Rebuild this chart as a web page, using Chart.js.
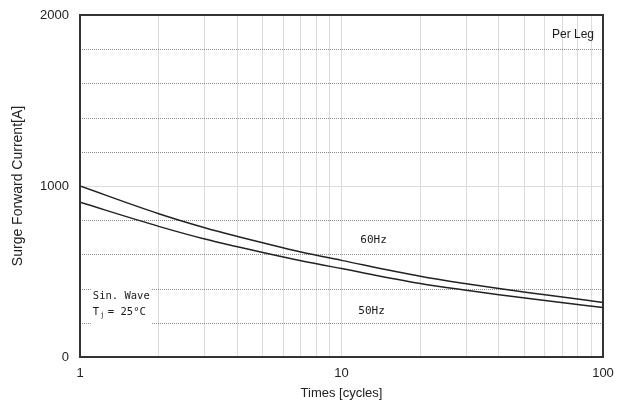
<!DOCTYPE html>
<html>
<head>
<meta charset="utf-8">
<script src="https://cdn.jsdelivr.net/npm/chart.js@4"></script>
<style>
  body { margin: 0; background: #fff; }
</style>
</head>
<body>
<canvas id="chart" width="629" height="404"></canvas>
<script>
// Data
let cycles = [1, 2, 3, 4, 5, 7, 10, 20, 30, 40, 60, 100];
let surge60 = [1000, 838, 756, 705, 668, 614, 565, 472, 428, 400, 364, 319];
let surge50 = [905, 764, 690, 645, 611, 563, 517, 430, 390, 364, 330, 290];

// Axis ticks
let xTicks = [1, 2, 3, 4, 5, 6, 7, 8, 9, 10, 20, 30, 40, 50, 60, 70, 80, 90, 100];
let xLabels = [1, 10, 100];
let yLabels = [0, 1000, 2000];
let yDotted = [200, 400, 600, 800, 1200, 1400, 1600, 1800];

let font = "'Liberation Sans', Arial, sans-serif";
let mono = "'DejaVu Sans Mono', monospace";

function toPoints(values) {
    return cycles.map((c, i) => ({ x: c, y: values[i] }));
}

// Dotted grid, frame and notes
let extras = {
    id: "extras",
    beforeDatasetsDraw(chart) {
        let ctx = chart.ctx;
        let area = chart.chartArea;
        let y = chart.scales.y;
        ctx.save();
        ctx.strokeStyle = "#8a8a8a";
        ctx.lineWidth = 1;
        ctx.setLineDash([1, 1]);
        yDotted.forEach(v => {
            let py = Math.round(y.getPixelForValue(v)) + 0.5;
            ctx.beginPath();
            ctx.moveTo(area.left, py);
            ctx.lineTo(area.right, py);
            ctx.stroke();
        });
        ctx.restore();
    },
    afterDatasetsDraw(chart) {
        let ctx = chart.ctx;
        let area = chart.chartArea;
        let x = chart.scales.x;
        let y = chart.scales.y;
        ctx.save();

        // white patch behind the note
        ctx.fillStyle = "#fff";
        let bx1 = x.getPixelForValue(1.1), bx2 = x.getPixelForValue(1.88);
        let by1 = y.getPixelForValue(433), by2 = y.getPixelForValue(170);
        ctx.fillRect(bx1, by1, bx2 - bx1, by2 - by1);

        // frame
        ctx.strokeStyle = "#333";
        ctx.lineWidth = 2;
        ctx.strokeRect(area.left, area.top, area.right - area.left, area.bottom - area.top);

        ctx.fillStyle = "#1a1a1a";
        ctx.textBaseline = "middle";

        ctx.font = "12px " + font;
        ctx.textAlign = "right";
        ctx.fillText("Per Leg", x.getPixelForValue(92.4), y.getPixelForValue(1883));

        ctx.textAlign = "left";
        ctx.font = "11px " + mono;
        ctx.fillText("60Hz", x.getPixelForValue(11.8), y.getPixelForValue(682));
        ctx.fillText("50Hz", x.getPixelForValue(11.6), y.getPixelForValue(270));

        ctx.font = "10.5px " + mono;
        let nx = x.getPixelForValue(1.12);
        ctx.fillText("Sin. Wave", nx, y.getPixelForValue(358));
        let ty = y.getPixelForValue(262);
        ctx.fillText("T", nx, ty);
        ctx.font = "7px " + mono;
        ctx.fillText("j", nx + 7.5, ty + 3);
        ctx.font = "10.5px " + mono;
        ctx.fillText("= 25\u00b0C", nx + 15, ty);

        ctx.restore();
    }
};

let chart = new Chart(document.getElementById("chart"), {
    type: "line",
    data: {
        datasets: [
            { label: "60Hz", data: toPoints(surge60) },
            { label: "50Hz", data: toPoints(surge50) }
        ]
    },
    options: {
        responsive: false,
        animation: false,
        devicePixelRatio: 1,
        layout: { padding: { top: 15, right: 26, left: 0, bottom: 0 } },
        elements: {
            line: { borderColor: "#222", borderWidth: 1.5, tension: 0.4, cubicInterpolationMode: "monotone", fill: false },
            point: { radius: 0 }
        },
        plugins: {
            legend: { display: false },
            tooltip: { enabled: false }
        },
        scales: {
            x: {
                type: "logarithmic",
                min: 1,
                max: 100,
                afterBuildTicks: s => { s.ticks = xTicks.map(v => ({ value: v })); },
                afterFit: s => { s.height = 47; },
                ticks: {
                    autoSkip: false,
                    maxRotation: 0,
                    padding: 3,
                    color: "#222",
                    font: { family: font, size: 13 },
                    callback: v => xLabels.includes(v) ? String(v) : ""
                },
                grid: { color: "#dcdcdc", lineWidth: 1, drawTicks: true, tickLength: 6, tickColor: "rgba(0,0,0,0)" },
                border: { display: false },
                title: {
                    display: true,
                    text: "Times [cycles]",
                    color: "#222",
                    font: { family: font, size: 13 },
                    padding: { top: 0, bottom: 3 }
                }
            },
            y: {
                min: 0,
                max: 2000,
                afterFit: s => { s.width = 80; },
                ticks: {
                    stepSize: 200,
                    padding: 3,
                    color: "#222",
                    font: { family: font, size: 13 },
                    callback: v => yLabels.includes(v) ? String(v) : ""
                },
                grid: {
                    color: c => (c.tick && c.tick.value === 1000) ? "#dcdcdc" : "rgba(0,0,0,0)",
                    drawTicks: true,
                    tickLength: 8,
                    tickColor: "rgba(0,0,0,0)"
                },
                border: { display: false },
                title: {
                    display: true,
                    text: "Surge Forward Current[A]",
                    color: "#222",
                    font: { family: font, size: 14 },
                    padding: { top: 10, bottom: 0 }
                }
            }
        }
    },
    plugins: [extras]
});
</script>
</body>
</html>
